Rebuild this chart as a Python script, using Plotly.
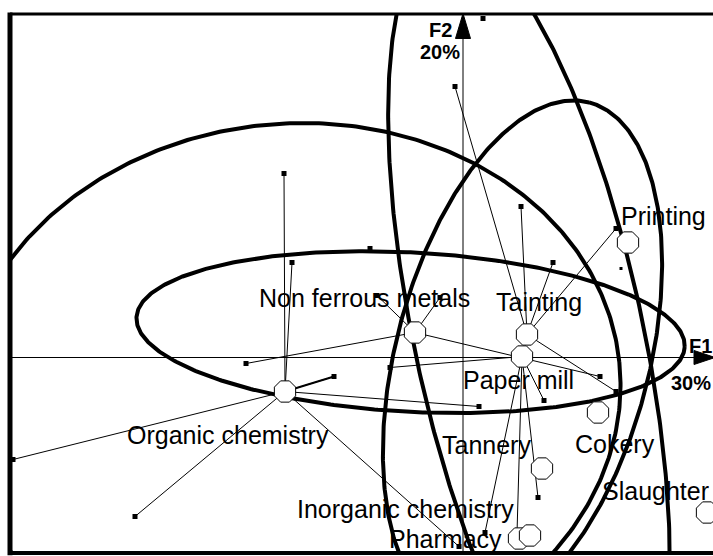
import numpy as np
import plotly.graph_objects as go

# ---------------- data (factor coordinates, F1 / F2) ----------------
centroid_names = ["Organic chemistry", "Non ferrous metals", "Tainting", "Paper mill",
                  "Printing", "Cokery", "Tannery", "Pharmacy", "Inorganic chemistry", "Slaughter"]
centroid_f1 = [-1.78, -0.48, 0.64, 0.59, 1.65, 1.35, 0.79, 0.56, 0.67, 2.44]
centroid_f2 = [-0.34, 0.25, 0.23, 0.01, 1.15, -0.55, -1.11, -1.81, -1.78, -1.55]

organic_f1 = [-1.79, -1.71, -1.29, -4.50, -3.28, 0.16, -0.04]
organic_f2 = [1.84, 0.95, -0.19, -1.02, -1.59, -0.49, -1.89]
nonferrous_f1 = [-2.17, -0.86, -0.23, 1.37]
nonferrous_f2 = [-0.06, 0.62, 0.60, -0.19]
tainting_f1 = [-0.08, 0.58, 0.90, 1.53, 1.53]
tainting_f2 = [2.71, 1.51, 0.95, 1.29, -0.34]
papermill_f1 = [-0.73, 0.22, 0.75, 0.81, 0.54]
papermill_f2 = [-0.10, -1.75, -1.40, -0.43, -1.76]
isolated_f1 = [-0.93, 0.20]
isolated_f2 = [1.09, 3.39]
minor_f1 = [1.58]
minor_f2 = [0.89]

# ellipses: centre, semi-axes, orientation of major axis (degrees)
ellipse_cx = [-0.524, -1.732, 0.595, 0.660]
ellipse_cy = [0.254, -0.387, -0.007, 0.200]
ellipse_a = [2.745, 3.313, 2.643, 4.083]
ellipse_b = [0.797, 2.725, 1.268, 1.144]
ellipse_angle = [-3.1, 5.9, 75.4, 102.1]

axis_labels = ["F1", "30%", "F2", "20%"]

# ---------------- styling ----------------
X_RANGE = [-4.53, 2.50]
Y_RANGE = [-1.955, 3.435]
FONT = "Liberation Sans, Arial, sans-serif"
LABEL_SIZE = 25
label_shift = {  # pixel offsets of each label from its centroid
    "Printing": (35.5, 27), "Non ferrous metals": (-51, 35), "Tainting": (11.5, 33),
    "Paper mill": (-3.5, -23), "Organic chemistry": (-57, -43), "Tannery": (-56, 24),
    "Cokery": (17, -31), "Inorganic chemistry": (-125, 27), "Pharmacy": (-73.5, 0),
    "Slaughter": (-52, 22),
}

fig = go.Figure()
cent = {n: (x, y) for n, x, y in zip(centroid_names, centroid_f1, centroid_f2)}
groups = [("Organic chemistry", organic_f1, organic_f2),
          ("Non ferrous metals", nonferrous_f1, nonferrous_f2),
          ("Tainting", tainting_f1, tainting_f2),
          ("Paper mill", papermill_f1, papermill_f2)]

# axes lines
fig.add_trace(go.Scatter(x=[X_RANGE[0], 2.31], y=[0, 0], mode="lines",
                         line=dict(color="black", width=1), hoverinfo="skip"))
fig.add_trace(go.Scatter(x=[0, 0], y=[Y_RANGE[0], 3.19], mode="lines",
                         line=dict(color="black", width=1), hoverinfo="skip"))

# links from points to centroids
for name, fx, fy in groups:
    cx, cy = cent[name]
    xs, ys = [], []
    for x, y in zip(fx, fy):
        xs += [cx, x, None]
        ys += [cy, y, None]
    fig.add_trace(go.Scatter(x=xs, y=ys, mode="lines", line=dict(color="black", width=1),
                             hoverinfo="skip"))
# emphasised link
cx, cy = cent["Organic chemistry"]
fig.add_trace(go.Scatter(x=[cx, organic_f1[2]], y=[cy, organic_f2[2]], mode="lines",
                         line=dict(color="black", width=2), hoverinfo="skip"))

# individual points
allx = organic_f1 + nonferrous_f1 + tainting_f1 + papermill_f1 + isolated_f1
ally = organic_f2 + nonferrous_f2 + tainting_f2 + papermill_f2 + isolated_f2
fig.add_trace(go.Scatter(x=allx, y=ally, mode="markers",
                         marker=dict(symbol="square", size=5, color="black"), hoverinfo="skip"))
fig.add_trace(go.Scatter(x=minor_f1, y=minor_f2, mode="markers",
                         marker=dict(symbol="square", size=3, color="black"), hoverinfo="skip"))

# ellipses
t = np.linspace(0, 2 * np.pi, 500)
for cx_, cy_, a, b, ang in zip(ellipse_cx, ellipse_cy, ellipse_a, ellipse_b, ellipse_angle):
    th = np.radians(ang)
    ex = cx_ + a * np.cos(t) * np.cos(th) - b * np.sin(t) * np.sin(th)
    ey = cy_ + a * np.cos(t) * np.sin(th) + b * np.sin(t) * np.cos(th)
    fig.add_trace(go.Scatter(x=ex, y=ey, mode="lines", line=dict(color="black", width=4),
                             hoverinfo="skip"))

# centroids
fig.add_trace(go.Scatter(x=centroid_f1, y=centroid_f2, mode="markers",
                         marker=dict(symbol="octagon", size=23, color="white",
                                     line=dict(color="black", width=1)), hoverinfo="skip"))

# arrow heads
fig.add_trace(go.Scatter(x=[2.52, 2.31, 2.31, 2.52], y=[0, 0.07, -0.07, 0], mode="lines",
                         fill="toself", fillcolor="black", line=dict(color="black", width=1),
                         hoverinfo="skip"))
fig.add_trace(go.Scatter(x=[0, -0.075, 0.075, 0], y=[3.44, 3.19, 3.19, 3.44], mode="lines",
                         fill="toself", fillcolor="black", line=dict(color="black", width=1),
                         hoverinfo="skip"))

annotations = []
for n in centroid_names:
    dx, dy = label_shift[n]
    annotations.append(dict(x=cent[n][0], y=cent[n][1], text=n, showarrow=False,
                            xshift=dx, yshift=dy, xanchor="center", yanchor="middle",
                            font=dict(family=FONT, size=LABEL_SIZE, color="black")))
bold = dict(family=FONT, size=20, color="black")
annotations += [
    dict(x=X_RANGE[1], y=0, text="<b>" + axis_labels[0] + "</b>", showarrow=False, xshift=-13, yshift=12, font=bold),
    dict(x=X_RANGE[1], y=0, text="<b>" + axis_labels[1] + "</b>", showarrow=False, xshift=-22, yshift=-25, font=bold),
    dict(x=0, y=Y_RANGE[1], text="<b>" + axis_labels[2] + "</b>", showarrow=False, xshift=-23, yshift=-16, font=bold),
    dict(x=0, y=Y_RANGE[1], text="<b>" + axis_labels[3] + "</b>", showarrow=False, xshift=-23, yshift=-38, font=bold),
]

shapes = [
    dict(type="line", xref="paper", yref="paper", x0=0, x1=0, y0=-0.004, y1=1.003,
         line=dict(color="black", width=5)),
    dict(type="line", xref="paper", yref="paper", x0=0, x1=1.05, y0=1, y1=1,
         line=dict(color="black", width=3)),
    dict(type="line", xref="paper", yref="paper", x0=0, x1=1.05, y0=0, y1=0,
         line=dict(color="black", width=4)),
]

fig.update_layout(
    width=713, height=556, margin=dict(l=10, r=0, t=14, b=3),
    paper_bgcolor="white", plot_bgcolor="white", showlegend=False,
    xaxis=dict(range=X_RANGE, visible=False, showgrid=False, zeroline=False, fixedrange=True),
    yaxis=dict(range=Y_RANGE, visible=False, showgrid=False, zeroline=False, fixedrange=True),
    annotations=annotations, shapes=shapes,
)
# remove the default page margin so the 713x556 figure fills the window exactly
fig.write_html("out.html", config={"displayModeBar": False},
               post_script="document.body.style.margin='0';document.body.style.overflow='hidden';")
